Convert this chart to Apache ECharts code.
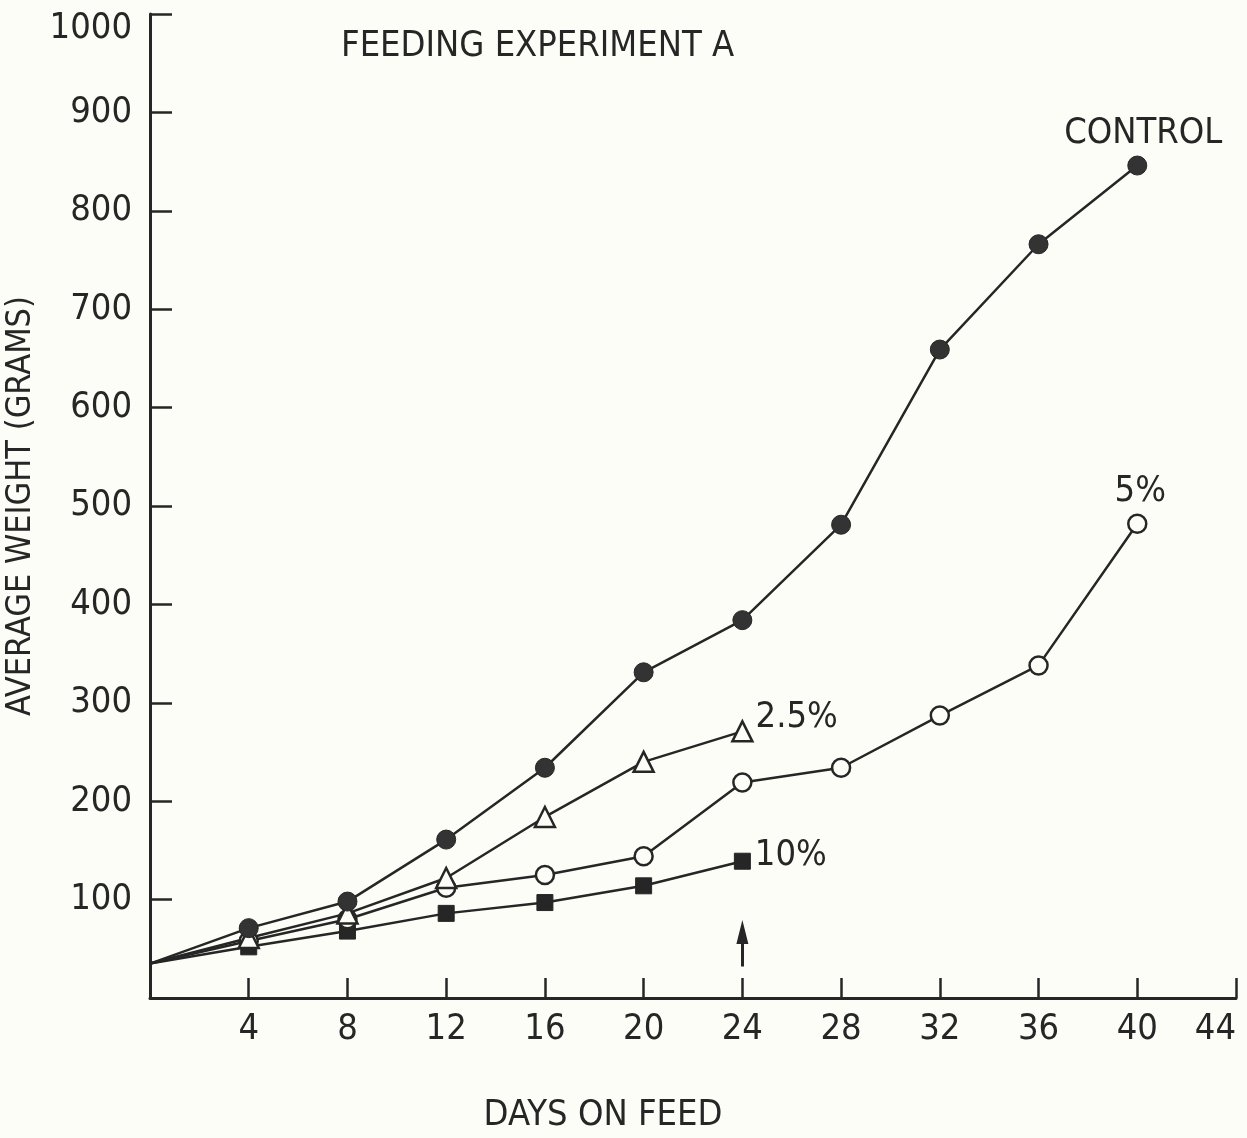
<!DOCTYPE html>
<html>
<head>
<meta charset="utf-8">
<script src="https://cdn.jsdelivr.net/npm/echarts@6/dist/echarts.min.js"></script>
<style>
  html, body { margin: 0; padding: 0; background: #fdfdf8; }
  #chart { width: 1247px; height: 1138px; }
</style>
</head>
<body>
<div id="chart"></div>
<script>
var days = [0, 4, 8, 12, 16, 20, 24, 28, 32, 36, 40];
var control = [35, 71, 98, 161, 234, 331, 384, 481, 659, 766, 846];
var pct25 = [35, 61, 86, 122, 184, 240, 271];
var pct5 = [35, 58, 80, 112, 125, 144, 219, 234, 287, 338, 482];
var pct10 = [35, 52, 68, 86, 97, 114, 139];
var arrowFrom = [24, 32];
var arrowTo = [24, 67];

var ink = '#262626';
var paper = '#fdfdf8';
var font = '"Liberation Sans Narrow", "DejaVu Sans Condensed", sans-serif';

// start point has no marker, last point carries the series name
function seriesData(vals, text, pos, offset) {
    var d = vals.map(function (v, i) { return [days[i], v]; });
    d[0] = { value: d[0], symbol: 'none' };
    var last = d.length - 1;
    d[last] = {
        value: d[last],
        label: {
            show: true, formatter: text, position: pos, offset: offset,
            color: ink, fontFamily: font, fontSize: 36, distance: 4
        }
    };
    return d;
}

var chart = echarts.init(document.getElementById('chart'));

var option = {
    backgroundColor: paper,
    animation: false,
    title: {
        text: 'FEEDING EXPERIMENT A',
        left: 336, top: 24,
        textStyle: { color: ink, fontFamily: font, fontSize: 36, fontWeight: 'normal' }
    },
    grid: { left: 150, right: 11, top: 14, bottom: 140, outerBoundsMode: 'none', containLabel: false },
    xAxis: {
        type: 'value', min: 0, max: 44, interval: 4,
        name: 'DAYS ON FEED', nameLocation: 'middle', nameGap: 100,
        nameTextStyle: { color: ink, fontFamily: font, fontSize: 36, padding: [0, 180, 0, 0] },
        axisLine: { lineStyle: { color: ink, width: 3 } },
        axisTick: { inside: true, length: 20, lineStyle: { color: ink, width: 2.5 } },
        axisLabel: {
            color: ink, fontFamily: font, fontSize: 36, margin: 14, alignMaxLabel: 'right',
            formatter: function (v) { return v === 0 ? '' : v; }
        },
        splitLine: { show: false }
    },
    yAxis: {
        type: 'value', min: 0, max: 1000, interval: 100,
        name: 'AVERAGE WEIGHT (GRAMS)', nameLocation: 'middle', nameGap: 112, nameRotate: 90,
        nameTextStyle: { color: ink, fontFamily: font, fontSize: 34 },
        axisLine: { show: true, lineStyle: { color: ink, width: 3 } },
        axisTick: { show: true, inside: true, length: 22, lineStyle: { color: ink, width: 2.5 } },
        axisLabel: {
            color: ink, fontFamily: font, fontSize: 36, margin: 18,
            formatter: function (v) {
                if (v === 0) return '';
                return v === 1000 ? '{top|1000}' : v;
            },
            rich: { top: { fontFamily: font, fontSize: 36, color: ink, padding: [30, 0, 0, 0] } }
        },
        splitLine: { show: false }
    },
    series: [
        {
            name: '10%', type: 'line', data: seriesData(pct10, '10%', 'right', [0, -6]),
            symbol: 'rect', symbolSize: 16,
            lineStyle: { color: ink, width: 2.5 },
            itemStyle: { color: ink, borderColor: ink, borderWidth: 1 },
            markLine: {
                silent: true, symbol: ['none', 'triangle'], symbolSize: [12, 24],
                label: { show: false },
                lineStyle: { color: ink, width: 3, type: 'solid' },
                data: [[{ coord: arrowFrom }, { coord: arrowTo }]]
            }
        },
        {
            name: '5%', type: 'line', data: seriesData(pct5, '5%', 'top', [3, 0]),
            symbol: 'circle', symbolSize: 18,
            lineStyle: { color: ink, width: 2.5 },
            itemStyle: { color: paper, borderColor: ink, borderWidth: 2.5 }
        },
        {
            name: '2.5%', type: 'line', data: seriesData(pct25, '2.5%', 'right', [-2, -14]),
            symbol: 'triangle', symbolSize: 20,
            lineStyle: { color: ink, width: 2.5 },
            itemStyle: { color: paper, borderColor: ink, borderWidth: 2.5 }
        },
        {
            name: 'CONTROL', type: 'line', data: seriesData(control, 'CONTROL', 'top', [6, 0]),
            symbol: 'circle', symbolSize: 19,
            lineStyle: { color: ink, width: 2.5 },
            itemStyle: { color: '#333', borderColor: ink, borderWidth: 1 }
        }
    ]
};

chart.setOption(option);
</script>
</body>
</html>
